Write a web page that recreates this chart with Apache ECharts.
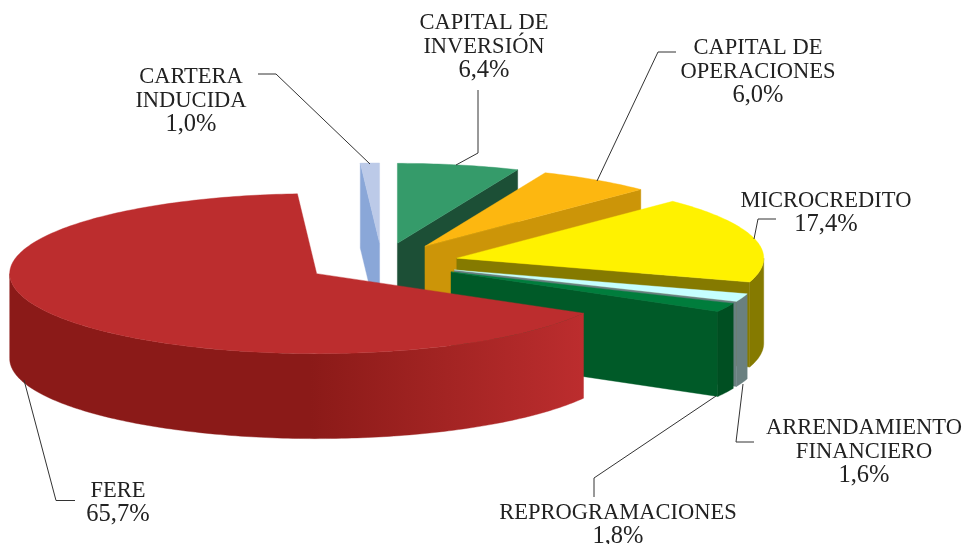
<!DOCTYPE html>
<html><head><meta charset="utf-8">
<style>html,body{margin:0;padding:0;background:#fff}#c{width:962px;height:544px}</style>
<script src="https://cdn.jsdelivr.net/npm/echarts@6/dist/echarts.min.js"></script>
</head><body><div id="c"></div>
<script>
var categories = ['CAPITAL DE\nINVERSIÓN','CAPITAL DE\nOPERACIONES','MICROCREDITO','ARRENDAMIENTO\nFINANCIERO','REPROGRAMACIONES','FERE','CARTERA\nINDUCIDA'];
var values = [6.4, 6.0, 17.4, 1.6, 1.8, 65.7, 1.0];

var topColors  = ['#359b6a','#fdb710','#fff200','#c5ffff','#007d3c','#bc2d2e','#bccae8'];
var faceColors = ['#1c4f36','#cc9508','#857a00','#6a8080','#005a28','#8b1a18','#8aa7d8'];
var wallColors = ['#1c4f36','#cc9508','#857a00','#6a8080','#004f22',null,'#8aa7d8'];
// painter's order, back to front
var paintOrder = [1,2,3,4,5,6,0];

// projection of the tilted pie, in pixels
var CX = 382, CY = 263, RX = 307, RY = 80, DEPTH = 85, EXPLODE = 77;
var FERE_WALL = new echarts.graphic.LinearGradient(310, 0, 583, 0, [
  {offset:0, color:'#8b1a18'},{offset:0.5, color:'#a32423'},{offset:1, color:'#bc2d2e'}
], true);
// label centres and leader-line routes (pixels)
var labelAt = [[484,47],[758,72],[826,213],[864,452],[618,525],[118,503],[191,101]];
var leaders = [
  [[456,165],[478,153],[478,90]],
  [[597,181],[658,52],[676,52]],
  [[754,239],[758,219],[776,219]],
  [[743,384],[736,442],[754,442]],
  [[716,396],[594,478],[594,497]],
  [[24,380],[56,500.5],[75,500.5]],
  [[370,164],[276,74],[258,74]]
];

var total = values.reduce(function(a,b){return a+b;},0);
var R = Math.PI/180;
function sliceSpan(i){
  var s = 0; for (var k=0;k<i;k++) s += values[k];
  return [s/total*360, (s+values[i])/total*360];
}
function rim(ax, ay, deg, dz){
  return [ax + RX*Math.sin(deg*R), ay - RY*Math.cos(deg*R) + (dz||0)];
}
function arc(ax, ay, from, to, dz){
  var n = Math.max(2, Math.ceil(Math.abs(to-from))), pts = [];
  for (var k=0;k<=n;k++) pts.push(rim(ax, ay, from+(to-from)*k/n, dz));
  return pts;
}
function renderSlice(params, api){
  var i = params.dataIndex, sp = sliceSpan(i), a0 = sp[0], a1 = sp[1], mid = (a0+a1)/2;
  var ax = CX + EXPLODE*Math.sin(mid*R), ay = CY - EXPLODE*(RY/RX)*Math.cos(mid*R);
  var base = paintOrder[i]*10, kids = [];
  function poly(points, fill, lift){
    return {type:'polygon', z2:base+lift, shape:{points:points}, style:{fill:fill, stroke:fill, lineWidth:0.4}};
  }
  // radial face at the start of the slice, visible on the left half
  if (Math.sin(a0*R) < 0){
    var p = rim(ax,ay,a0);
    kids.push(poly([[ax,ay],p,[p[0],p[1]+DEPTH],[ax,ay+DEPTH]], faceColors[i], 0));
  }
  // radial face at the end of the slice, visible on the right half
  if (Math.sin(a1*R) > 0){
    var q = rim(ax,ay,a1);
    kids.push(poly([[ax,ay],q,[q[0],q[1]+DEPTH],[ax,ay+DEPTH]], faceColors[i], 0));
  }
  // outer wall, visible on the front half
  var w0 = Math.max(a0,90), w1 = Math.min(a1,270);
  if (w1 > w0){
    var up = arc(ax,ay,w0,w1,0), down = arc(ax,ay,w1,w0,DEPTH);
    kids.push(poly(up.concat(down), wallColors[i] || FERE_WALL, 1));
  }
  // top surface
  kids.push(poly([[ax,ay]].concat(arc(ax,ay,a0,a1,0)), topColors[i], 2));
  return {type:'group', children:kids};
}
function renderLabel(params, api){
  var i = params.dataIndex, at = labelAt[i];
  var pct = values[i].toFixed(1).replace('.',',') + '%';
  var lines = categories[i].split('\n').map(function(s){return '{n|'+s+'}';});
  lines.push('{p|'+pct+'}');
  return {type:'group', children:[
    {type:'polyline', z2:100, shape:{points:leaders[i]}, style:{fill:null, stroke:'#333', lineWidth:1}},
    {type:'text', z2:101, x:at[0], y:at[1], style:{
      text:lines.join('\n'), align:'center', verticalAlign:'middle',
      fontFamily:'"Liberation Serif"', fill:'#222',
      rich:{
        n:{fontFamily:'"Liberation Serif"', fontSize:22.5, lineHeight:24, fill:'#222'},
        p:{fontFamily:'"Liberation Serif"', fontSize:24.5, lineHeight:24, fill:'#222'}
      }
    }}
  ]};
}
var rows = values.map(function(v){return [v];});
var chart = echarts.init(document.getElementById('c'), null, {renderer:'canvas'});
chart.setOption({
  animation:false, backgroundColor:'#fff',
  series:[
    {type:'custom', coordinateSystem:'none', silent:true, z:2, renderItem:renderSlice, data:rows},
    {type:'custom', coordinateSystem:'none', silent:true, z:3, renderItem:renderLabel, data:rows}
  ]
});
</script></body></html>
